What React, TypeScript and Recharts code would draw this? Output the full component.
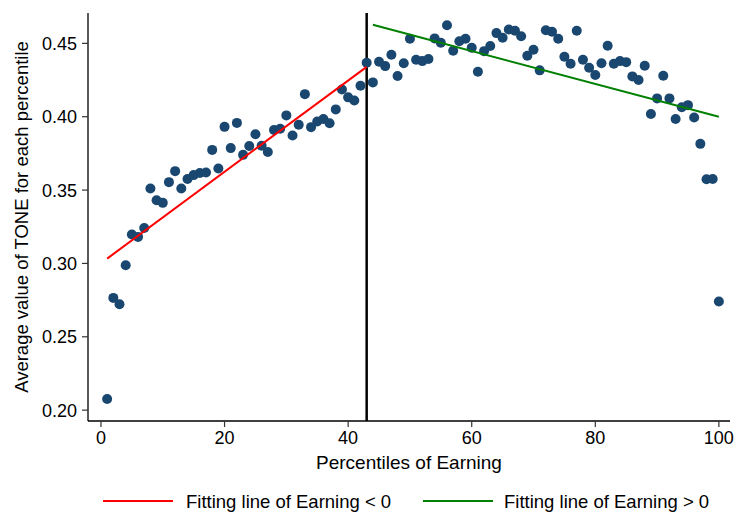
import React from 'react';
import { ComposedChart, Scatter, XAxis, YAxis, ReferenceLine, Legend } from 'recharts';

const percentiles = [
  1, 2, 3, 4, 5, 6, 7, 8, 9, 10, 11, 12, 13, 14, 15, 16, 17, 18, 19, 20,
  21, 22, 23, 24, 25, 26, 27, 28, 29, 30, 31, 32, 33, 34, 35, 36, 37, 38, 39, 40,
  41, 42, 43, 44, 45, 46, 47, 48, 49, 50, 51, 52, 53, 54, 55, 56, 57, 58, 59, 60,
  61, 62, 63, 64, 65, 66, 67, 68, 69, 70, 71, 72, 73, 74, 75, 76, 77, 78, 79, 80,
  81, 82, 83, 84, 85, 86, 87, 88, 89, 90, 91, 92, 93, 94, 95, 96, 97, 98, 99, 100,
];

const toneValues = [
  0.2076, 0.2765, 0.2722, 0.2988, 0.3197, 0.3181, 0.3242, 0.3511, 0.3431, 0.3413,
  0.3554, 0.3629, 0.3511, 0.3576, 0.3602, 0.3617, 0.362, 0.3774, 0.3647, 0.3931,
  0.3786, 0.3958, 0.374, 0.38, 0.3881, 0.3802, 0.3759, 0.3909, 0.3918, 0.4009,
  0.3872, 0.3945, 0.4154, 0.3929, 0.3968, 0.3984, 0.3956, 0.405, 0.4186, 0.4132,
  0.4111, 0.4211, 0.4368, 0.4234, 0.4375, 0.4345, 0.4422, 0.4277, 0.4364, 0.4531,
  0.4388, 0.4379, 0.4393, 0.4534, 0.4504, 0.4623, 0.445, 0.4514, 0.4531, 0.447,
  0.4306, 0.4447, 0.4482, 0.457, 0.4538, 0.4595, 0.4586, 0.4548, 0.4415, 0.4456,
  0.4316, 0.4589, 0.4579, 0.4531, 0.4409, 0.4361, 0.4586, 0.4388, 0.4334, 0.4284,
  0.4364, 0.4484, 0.4361, 0.4379, 0.4372, 0.4275, 0.425, 0.4347, 0.4018, 0.4125,
  0.4279, 0.4125, 0.3984, 0.4065, 0.4079, 0.3995, 0.3815, 0.3574, 0.3576, 0.274,
];

// Fitted lines (endpoints of each linear fit)
const fitNegX = [1, 43];
const fitNegY = [0.3033, 0.434];
const fitPosX = [44, 100];
const fitPosY = [0.4627, 0.4];

const cutoff = 43;

const xTicks = [0, 20, 40, 60, 80, 100];
const yTicks = [0.2, 0.25, 0.3, 0.35, 0.4, 0.45];

const legendLabels = ['Fitting line of Earning < 0', 'Fitting line of Earning > 0'];

const FONT = '"Liberation Sans", Arial, Helvetica, sans-serif';

const points = percentiles.map((p, i) => ({ x: p, y: toneValues[i] }));
const negFit = fitNegX.map((x, i) => ({ x, y: fitNegY[i] }));
const posFit = fitPosX.map((x, i) => ({ x, y: fitPosY[i] }));

const XTick = (props: any) => {
  const { x, y, payload } = props;
  return (
    <text x={x} y={y} dy="0.71em" textAnchor="middle" fontSize={18} fill="#000" fontFamily={FONT}>
      {payload.value}
    </text>
  );
};

const YTick = (props: any) => {
  const { x, y, payload } = props;
  return (
    <text x={x} y={y} dy="0.36em" textAnchor="end" fontSize={18} fill="#000" fontFamily={FONT}>
      {Number(payload.value).toFixed(2)}
    </text>
  );
};

const Dot = (props: any) => {
  const { cx, cy } = props;
  if (cx == null || cy == null) return <g />;
  return <circle cx={cx} cy={cy} r={5} fill="#1a476f" />;
};

const NoDot = () => <g />;

const LegendContent = () => (
  <svg width={736} height={24} style={{ display: 'block' }}>
    <line x1={103} x2={173} y1={11} y2={11} stroke="#ff0000" strokeWidth={2} />
    <text x={186} y={18} fontSize={18.5} fontFamily={FONT} fill="#000">
      {legendLabels[0]}
    </text>
    <line x1={423} x2={493} y1={11} y2={11} stroke="#008000" strokeWidth={2} />
    <text x={504} y={18} fontSize={18.5} fontFamily={FONT} fill="#000">
      {legendLabels[1]}
    </text>
  </svg>
);

export default function App() {
  return (
    <div style={{ position: 'absolute', left: 0, top: 0, width: 736, height: 512, background: '#fff' }}>
      <ComposedChart
        width={736}
        height={512}
        margin={{ top: 13, right: 6, left: 0, bottom: 0 }}
        style={{ fontFamily: FONT }}
      >
        <XAxis
          type="number"
          dataKey="x"
          domain={[-2.1, 101.8]}
          ticks={xTicks}
          height={91}
          tickSize={6}
          tickMargin={4}
          tick={<XTick />}
          axisLine={{ stroke: '#000', strokeWidth: 1.3 }}
          tickLine={{ stroke: '#333', strokeWidth: 1.2 }}
          allowDataOverflow
          label={{
            content: (p: any) => {
              const vb = p.viewBox || {};
              return (
                <text
                  x={vb.x + vb.width / 2}
                  y={vb.y + 48}
                  textAnchor="middle"
                  fontSize={19}
                  fontFamily={FONT}
                  fill="#000"
                >
                  Percentiles of Earning
                </text>
              );
            },
          }}
        />
        <YAxis
          type="number"
          dataKey="y"
          domain={[0.1926, 0.4707]}
          ticks={yTicks}
          width={88}
          tickSize={6}
          tickMargin={5}
          tick={<YTick />}
          axisLine={{ stroke: '#000', strokeWidth: 1.3 }}
          tickLine={{ stroke: '#333', strokeWidth: 1.2 }}
          allowDataOverflow
          label={{
            content: (p: any) => {
              const vb = p.viewBox || {};
              const cy = vb.y + vb.height / 2;
              return (
                <text
                  x={28}
                  y={cy}
                  transform={`rotate(-90 28 ${cy})`}
                  textAnchor="middle"
                  fontSize={18.5}
                  fontFamily={FONT}
                  fill="#000"
                >
                  Average value of TONE for each percentile
                </text>
              );
            },
          }}
        />
        <ReferenceLine x={cutoff} stroke="#000" strokeWidth={2.5} />
        <Scatter
          name="TONE"
          data={points}
          shape={<Dot />}
          isAnimationActive={false}
          legendType="none"
        />
        <Scatter
          name={legendLabels[0]}
          data={negFit}
          line={{ stroke: '#ff0000', strokeWidth: 2 }}
          shape={<NoDot />}
          isAnimationActive={false}
        />
        <Scatter
          name={legendLabels[1]}
          data={posFit}
          line={{ stroke: '#008000', strokeWidth: 2 }}
          shape={<NoDot />}
          isAnimationActive={false}
        />
        <Legend
          layout="horizontal"
          verticalAlign="middle"
          align="center"
          content={<LegendContent />}
          wrapperStyle={{ position: 'absolute', top: 490, left: 0, width: 736, height: 24 }}
        />
      </ComposedChart>
    </div>
  );
}
